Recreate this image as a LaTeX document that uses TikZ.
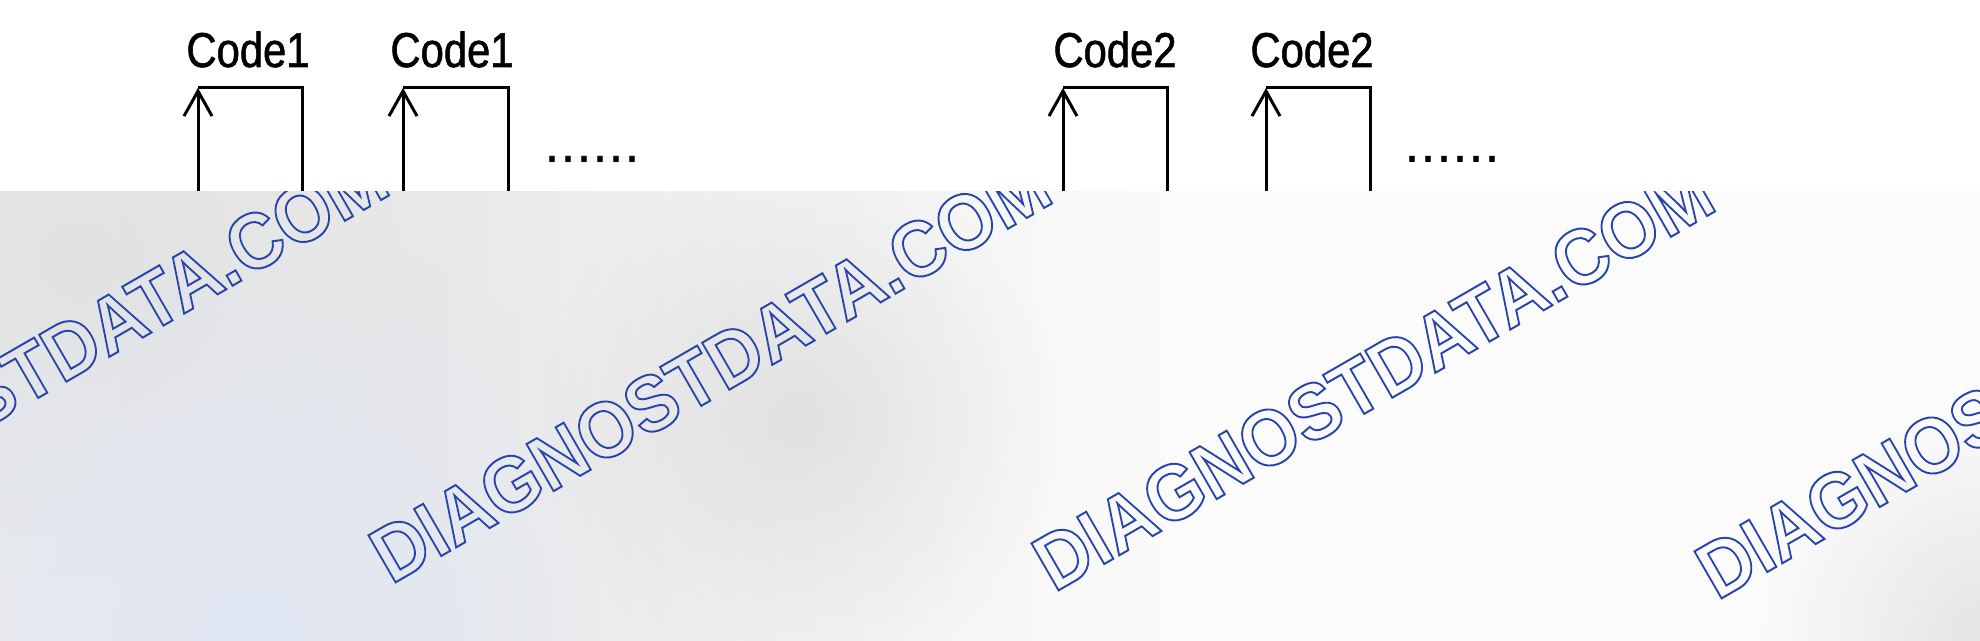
\documentclass[tikz,border=0pt]{standalone}
\usepackage{fontspec}
\usepackage{graphicx}
\setmainfont{Liberation Sans}
\newfontfamily\codefont{Liberation Sans}[BoldFont={Liberation Sans},BoldFeatures={FakeBold=1.3}]
\newfontfamily\wmfont{Liberation Sans Bold}
\usetikzlibrary{arrows.meta,fadings}
\definecolor{wmblue}{RGB}{38,68,172}
\definecolor{bgA}{HTML}{E4E4E4}
\definecolor{bgB}{HTML}{EBEBEB}
\definecolor{bgC}{HTML}{E8E8E8}
\definecolor{bgD}{HTML}{F1F1F1}
\definecolor{bgE}{HTML}{FBFBFB}
\definecolor{bgF}{HTML}{F8F8F8}
\definecolor{bgG}{HTML}{EAEAEA}
\definecolor{blobgray}{HTML}{DADADA}
\definecolor{blobblue}{HTML}{E0E7F5}
\pgfdeclarehorizontalshading{bgshade}{100bp}{color(0bp)=(bgA); color(20bp)=(bgB); color(36bp)=(bgC); color(44bp)=(bgD); color(55bp)=(bgE); color(80bp)=(bgE); color(92bp)=(bgF); color(100bp)=(bgG)}
\tikzfading[name=softblob, inner color=transparent!0, outer color=transparent!100]
\newcommand\mkloop[3]{%
  \coordinate (#1-bl) at (#2,200);
  \coordinate (#1-tl) at (#2,88);
  \coordinate (#1-tr) at (#3,88);
  \coordinate (#1-br) at (#3,200);
  \draw[sigarrow] (#1-bl) -- (#1-tl);
  \draw[sig] (#1-tl) -- (#1-tr) -- (#1-br);
}
\newcommand\outlinetext[1]{\special{pdf:literal direct 1 Tr 0.9 w}#1\special{pdf:literal direct 0 Tr}}
\newcommand\wmark[3]{%
  \node[wm,text=wmblue] (#1) at (#2,#3) {\outlinetext{\scalebox{1}[1.08]{DIAGNOSTDATA.COM}}};
}
\begin{document}
\begin{tikzpicture}[x=0.5pt,y=-0.5pt,
  codelbl/.style={inner sep=0pt, anchor=base, font=\codefont\bfseries\fontsize{20.9}{24}\selectfont},
  sig/.style={line width=1.5pt, black, line join=miter},
  sigarrow/.style={sig, -{Straight Barb[length=12.5pt,width=14pt,line width=1.5pt]}},
  dotsl/.style={inner sep=0pt, anchor=base west, font=\fontsize{28.8}{30}\selectfont},
  wm/.style={inner sep=0pt, anchor=base west, rotate=30, font=\wmfont\fontsize{36.5}{40}\selectfont}]
\useasboundingbox (0,0) rectangle (1980,641);
\fill[white] (0,0) rectangle (1980,641);

% labels
\node[codelbl] (c1a) at (248,67) {\scalebox{1}[1.17]{Code1}};
\node[codelbl] (c1b) at (452,67) {\scalebox{1}[1.17]{Code1}};
\node[codelbl] (c2a) at (1115,67) {\scalebox{1}[1.17]{Code2}};
\node[codelbl] (c2b) at (1312,67) {\scalebox{1}[1.17]{Code2}};

% loops
\mkloop{la}{198}{302}
\mkloop{lb}{403}{508}
\mkloop{lc}{1063}{1167}
\mkloop{ld}{1266}{1370}

% dots
\node[dotsl] (d1) at (544,163) {......};
\node[dotsl] (d2) at (1404,163) {......};

% gray lower band with watermark
\begin{scope}
  \clip (0,192) rectangle (1980,641);
  \shade[shading=bgshade] (0,192) rectangle (1980,641);
  \fill[blobgray, path fading=softblob, opacity=0.7] (800,420) circle (260);
  \fill[blobgray, path fading=softblob, opacity=0.5] (80,260) circle (320);
  \fill[blobblue, path fading=softblob, opacity=0.9] (250,640) circle (420);
  \fill[blobgray, path fading=softblob, opacity=0.7] (1990,640) circle (230);
  \wmark{wmA}{-272}{577}
  \wmark{wmB}{391}{585}
  \wmark{wmC}{1054}{593}
  \wmark{wmD}{1717}{601}
\end{scope}
\end{tikzpicture}
\end{document}
